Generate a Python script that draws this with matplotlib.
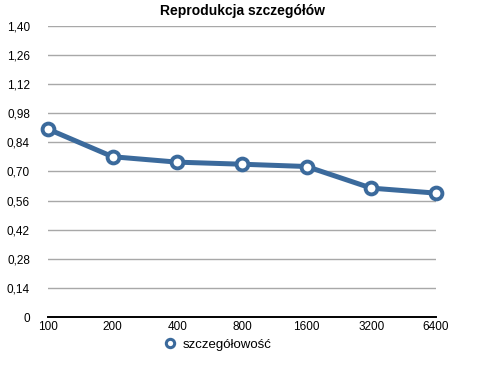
import matplotlib
matplotlib.use("Agg")
import matplotlib.pyplot as plt
from matplotlib.lines import Line2D

plt.rcParams["font.family"] = ["Liberation Sans", "DejaVu Sans"]

categories = ["100", "200", "400", "800", "1600", "3200", "6400"]
values = [0.904, 0.771, 0.745, 0.735, 0.724, 0.62, 0.596]
y_ticks = [0, 0.14, 0.28, 0.42, 0.56, 0.70, 0.84, 0.98, 1.12, 1.26, 1.40]
series_name = "szczegółowość"
title = "Reprodukcja szczegółów"

color = "#3b6a9c"

fig = plt.figure(figsize=(4.98, 3.67), dpi=100)
ax = fig.add_axes([0.0964, 0.1362, 0.7791, 0.793])

x = list(range(len(categories)))
ax.plot(x, values, color=color, lw=3.6, marker="o", ms=8.5,
        mfc="white", mec=color, mew=2.8, zorder=3, clip_on=False)

ax.set_xlim(0, len(categories) - 1)
ax.set_ylim(0, 1.40)
ax.set_yticks(y_ticks)
ax.set_yticklabels(["0" if v == 0 else f"{v:.2f}".replace(".", ",") for v in y_ticks])
ax.set_xticks(x)
ax.set_xticklabels(categories)

ax.grid(True, axis="y", color="#a8a8a8", lw=1.0)
ax.set_axisbelow(True)
for side in ["top", "right", "left"]:
    ax.spines[side].set_visible(False)
ax.spines["bottom"].set_color("black")
ax.spines["bottom"].set_linewidth(1.4)
ax.spines["bottom"].set_zorder(2)
ax.tick_params(axis="both", length=0, labelsize=8.5, colors="black")
ax.tick_params(axis="y", pad=13)
ax.tick_params(axis="x", pad=3)

ax.set_title(title, fontsize=10, fontweight="bold", pad=8)

handle = Line2D([], [], color=color, lw=0, marker="o", ms=6,
                mfc="white", mec=color, mew=2.2)
fig.legend([handle], [series_name], loc="center", bbox_to_anchor=(0.435, 0.06),
           frameon=False, fontsize=9.5, handletextpad=0.4, handlelength=1.2)

fig.savefig("out.png", dpi=100)
